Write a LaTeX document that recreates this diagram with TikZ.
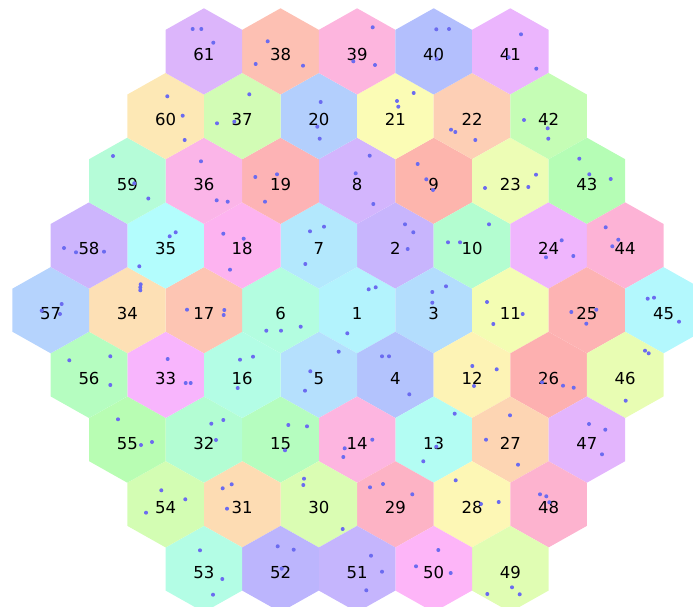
\documentclass[tikz,border=0pt]{standalone}
\usepackage{fontspec}
\setmainfont{DejaVu Sans}
\definecolor{h1}{HTML}{B3F3FD}\definecolor{h2}{HTML}{C8B5FD}\definecolor{h3}{HTML}{B3DDFD}
\definecolor{h4}{HTML}{B3C3FD}\definecolor{h5}{HTML}{B5E0FD}\definecolor{h6}{HTML}{B3FDE0}
\definecolor{h7}{HTML}{B3E8FD}\definecolor{h8}{HTML}{D3B5FD}\definecolor{h9}{HTML}{FDB5AD}
\definecolor{h10}{HTML}{B3FDD0}\definecolor{h11}{HTML}{F3FDB3}\definecolor{h12}{HTML}{FDF3B5}
\definecolor{h13}{HTML}{B3FDF3}\definecolor{h14}{HTML}{FDB5E0}\definecolor{h15}{HTML}{B5FDBF}
\definecolor{h16}{HTML}{B3FDE5}\definecolor{h17}{HTML}{FDC5B3}\definecolor{h18}{HTML}{FDB3F0}
\definecolor{h19}{HTML}{FDB3B5}\definecolor{h20}{HTML}{B3CFFD}\definecolor{h21}{HTML}{FBFCB5}
\definecolor{h22}{HTML}{FDCFB5}\definecolor{h23}{HTML}{EDFDB5}\definecolor{h24}{HTML}{EFB5FD}
\definecolor{h25}{HTML}{FDB3B3}\definecolor{h26}{HTML}{FDB0B0}\definecolor{h27}{HTML}{FDD5B3}
\definecolor{h28}{HTML}{FDF7B5}\definecolor{h29}{HTML}{FDB3C5}\definecolor{h30}{HTML}{DAFDB3}
\definecolor{h31}{HTML}{FDDCB3}\definecolor{h32}{HTML}{B3FDD3}\definecolor{h33}{HTML}{F8B5FD}
\definecolor{h34}{HTML}{FDE0B5}\definecolor{h35}{HTML}{B3FDFD}\definecolor{h36}{HTML}{FBB5E8}
\definecolor{h37}{HTML}{D2FCB5}\definecolor{h38}{HTML}{FDC0B3}\definecolor{h39}{HTML}{FDB5DE}
\definecolor{h40}{HTML}{B3BFFD}\definecolor{h41}{HTML}{EBB5FD}\definecolor{h42}{HTML}{C5FDB5}
\definecolor{h43}{HTML}{B5FDB5}\definecolor{h44}{HTML}{FDB3D6}\definecolor{h45}{HTML}{B3F8FD}
\definecolor{h46}{HTML}{E8FDB3}\definecolor{h47}{HTML}{E3B5FD}\definecolor{h48}{HTML}{FDB3CF}
\definecolor{h49}{HTML}{E0FDB3}\definecolor{h50}{HTML}{FDB5F8}\definecolor{h51}{HTML}{C5B5FD}
\definecolor{h52}{HTML}{BCB5FD}\definecolor{h53}{HTML}{B3FDE5}\definecolor{h54}{HTML}{D3FDB3}
\definecolor{h55}{HTML}{B8FDB3}\definecolor{h56}{HTML}{B5FDC0}\definecolor{h57}{HTML}{B5D3FD}
\definecolor{h58}{HTML}{CDB5FD}\definecolor{h59}{HTML}{B5FCD8}\definecolor{h60}{HTML}{FDE8B5}
\definecolor{h61}{HTML}{DCB5FB}
\definecolor{dotc}{HTML}{6B6BF0}
\tikzset{hexlabel/.style={anchor=base,inner sep=0pt,font=\fontsize{16.5}{20}\selectfont}}
\begin{document}
\begin{tikzpicture}[x=1pt,y=-1pt]
\useasboundingbox (0,0) rectangle (693,607);
\clip (0,0) rectangle (693,607);
\foreach \n/\a/\b in {1/0/0,2/1/-1,3/2/0,4/1/1,5/-1/1,6/-2/0,7/-1/-1,
 8/0/-2,9/2/-2,10/3/-1,11/4/0,12/3/1,13/2/2,14/0/2,15/-2/2,16/-3/1,17/-4/0,18/-3/-1,19/-2/-2,
 20/-1/-3,21/1/-3,22/3/-3,23/4/-2,24/5/-1,25/6/0,26/5/1,27/4/2,28/3/3,29/1/3,30/-1/3,31/-3/3,
 32/-4/2,33/-5/1,34/-6/0,35/-5/-1,36/-4/-2,37/-3/-3,
 38/-2/-4,39/0/-4,40/2/-4,41/4/-4,42/5/-3,43/6/-2,44/7/-1,45/8/0,46/7/1,47/6/2,48/5/3,
 49/4/4,50/2/4,51/0/4,52/-2/4,53/-4/4,54/-5/3,55/-6/2,56/-7/1,57/-8/0,58/-7/-1,59/-6/-2,
 60/-5/-3,61/-4/-4}{
  \pgfmathsetmacro\cx{357.1+38.3*\a}
  \pgfmathsetmacro\cy{310.2+64.7*\b}
  \fill[fill=h\n] (\cx,\cy-43.1) -- (\cx+38.3,\cy-21.55) -- (\cx+38.3,\cy+21.55)
    -- (\cx,\cy+43.1) -- (\cx-38.3,\cy+21.55) -- (\cx-38.3,\cy-21.55) -- cycle;
  \pgfmathsetmacro\ly{\cy+9.4}
  \node[hexlabel] (l\n) at (\cx,\ly) {\n};
}
\foreach \p in {(192.7,29),(201.3,29),(213.3,42.7),
 (167.3,96.3),(182.7,115.7),(184.7,140),
 (217,123.3),(234.3,121.7),(249.3,94.3),
 (113,156),(148.3,198.5),(134.3,183.3),
 (201,161.3),(216.7,200.3),(227.7,201.7),
 (267.7,41.3),(255.7,64),(303,65.7),
 (372.7,27.3),(353.3,61.3),(375,65),
 (436.3,29.3),(449,29),(436.7,59),
 (320.7,102),(317.3,126.7),(319.7,138.7),
 (413.7,93),(397,101),(398.3,106.7),
 (451,129.7),(455.3,132),(475.3,140),
 (255.3,177),(277,174.3),(265,201.7),
 (369.7,155.7),(355.7,173.3),(373.3,204),
 (417.7,164),(426.3,179.3),(433,190),
 (521,34.3),(508.7,57.3),(536.3,68.7),
 (524,120),(547.7,128.3),(548.3,138.7),
 (579.3,158.7),(589.3,174.3),(610.7,179),
 (536,174.7),(528.3,187),(485,188),
 (64,248),(76,252.3),(104,251.7),
 (175.7,232.3),(169.7,236.3),(139.3,266.3),
 (223.3,233.7),(230,269.7),(243.7,238.7),
 (140.7,284.3),(140.3,287.3),(140.3,290.3),
 (61.7,304),(60,314),(41.7,310.7),
 (187,309.7),(224.3,310),(223.7,315),
 (69.3,360.3),(110.3,356.3),(110.3,385),
 (167.7,359),(185.7,383),(190.7,383),
 (310,231.3),(324,226.7),(305.3,264),
 (405,224.3),(413.3,232.3),(407.7,249),
 (448,242.3),(460,242.3),(489,224.3),
 (368.7,289.3),(375.7,287.3),(347.3,333.3),
 (432.3,292),(446,286.3),(432.3,302.7),
 (266.3,330.7),(281,330.7),(300.7,326.7),
 (240,359.7),(253,356.7),(237.7,388),
 (338.7,351.7),(310.3,371.3),(305,390.7),
 (382,356.3),(389,356.3),(409.3,394.3),
 (561.7,240.3),(546,257.3),(573.3,256),
 (605.7,227.3),(618.3,239.7),(612.3,246.3),
 (487,302),(522.7,314),(493.3,324),
 (571.3,312),(596.3,309.7),(586.3,323.7),
 (647.7,298.7),(654,297.7),(679,321.7),
 (472.3,366),(496.7,369.3),(474,386),
 (542,382.3),(563,385.7),(573.7,387.7),
 (645,350.7),(648.7,353.3),(625.7,400.7),
 (118,419.3),(141,445),(152,442),
 (211.3,423.7),(223.3,420),(216,440),
 (161.3,490.3),(185.3,499.3),(146,512.7),
 (222.7,488.3),(231.7,484.3),(227,508.7),
 (200,550.3),(222.3,579),(213,594.7),
 (288.3,425),(307,426.3),(285,450.3),
 (372.3,439.7),(344.7,448.3),(343.3,457),
 (454.7,413.7),(436.3,446.7),(423.3,461.3),
 (304,478.7),(303.3,485),(342.7,529),
 (370,487.3),(383,484),(412.3,494.3),
 (455.7,480.3),(481,504),(498.7,502),
 (277.7,546.3),(293.7,549.7),(281.7,568.7),
 (371,555.7),(382,571.7),(366.3,590.3),
 (438.3,550),(416,566.3),(450.7,573),
 (510,415.3),(486,439.7),(518,464.7),
 (589,424),(605.3,429.7),(602,454.3),
 (540,494.3),(546.3,496.3),(549.3,502.3),
 (512,587.3),(487.3,594),(519.7,594.3)}{
  \fill[dotc] \p circle (2);
}
\end{tikzpicture}
\end{document}
